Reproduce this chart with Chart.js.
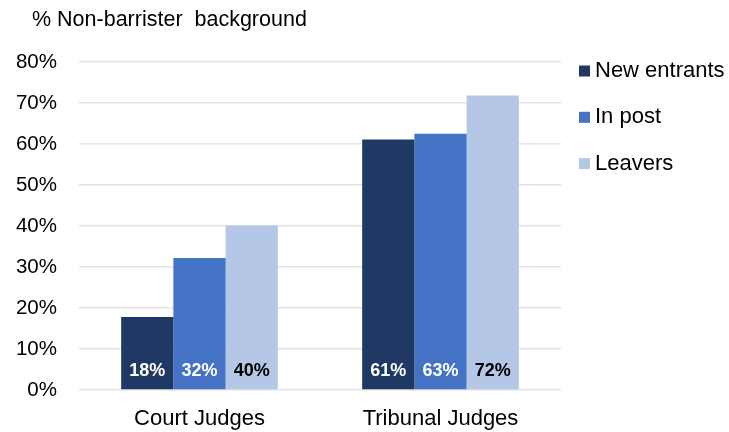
<!DOCTYPE html>
<html>
<head>
<meta charset="utf-8">
<script src="https://cdn.jsdelivr.net/npm/chart.js@4/dist/chart.umd.min.js"></script>
<style>
  html, body { margin: 0; padding: 0; background: #fff; }
  #wrap { width: 729px; height: 432px; }
</style>
</head>
<body>
<div id="wrap"><canvas id="chart" width="729" height="432"></canvas></div>
<script>
// Données
const categories = ['Court Judges', 'Tribunal Judges'];
const newEntrants = [17.8, 61.1];
const inPost = [32.2, 62.5];
const leavers = [40.1, 71.8];
const yTicks = [0, 10, 20, 30, 40, 50, 60, 70, 80];
const axisTitle = '% Non-barrister  background';

const FONT = "'Liberation Sans', Arial, sans-serif";

// Étiquettes de valeur en bas des barres
const barLabels = {
  id: 'barLabels',
  afterDatasetsDraw(chart) {
    const ctx = chart.ctx;
    ctx.save();
    ctx.font = "bold 18px " + FONT;
    ctx.textAlign = 'center';
    ctx.textBaseline = 'middle';
    chart.data.datasets.forEach((ds, i) => {
      chart.getDatasetMeta(i).data.forEach((bar, j) => {
        ctx.fillStyle = ds.labelColor;
        ctx.fillText(Math.round(ds.data[j]) + '%', bar.x, chart.scales.y.getPixelForValue(0) - 18.5);
      });
    });
    ctx.restore();
  }
};

// Titre de l'axe + légende à droite
const extras = {
  id: 'extras',
  afterDraw(chart) {
    const ctx = chart.ctx;
    ctx.save();
    ctx.textAlign = 'left';
    ctx.textBaseline = 'middle';
    ctx.fillStyle = '#000';
    ctx.font = "21.5px " + FONT;
    ctx.fillText(axisTitle, 32, 20);

    const x = chart.chartArea.right + 18;
    ctx.font = "22px " + FONT;
    chart.data.datasets.forEach((ds, i) => {
      const y = 71 + i * 46.3;
      ctx.fillStyle = ds.backgroundColor;
      ctx.fillRect(x, y - 5.5, 11, 11);
      ctx.fillStyle = '#000';
      ctx.fillText(ds.label, x + 16, y);
    });
    ctx.restore();
  }
};

const chart = new Chart(document.getElementById('chart').getContext('2d'), {
  type: 'bar',
  data: {
    labels: categories,
    datasets: [
      { label: 'New entrants', data: newEntrants, backgroundColor: '#203864', labelColor: '#ffffff' },
      { label: 'In post', data: inPost, backgroundColor: '#4472C4', labelColor: '#ffffff' },
      { label: 'Leavers', data: leavers, backgroundColor: '#B4C7E7', labelColor: '#000000' }
    ]
  },
  options: {
    responsive: false,
    animation: false,
    layout: { padding: { left: 14, right: 168, top: 62, bottom: 0 } },
    datasets: {
      bar: { barPercentage: 1, categoryPercentage: 0.65, borderWidth: 0 }
    },
    plugins: {
      legend: { display: false },
      tooltip: { enabled: false }
    },
    scales: {
      x: {
        afterFit(axis) { axis.height = 42; },
        grid: { display: false },
        border: { display: false },
        ticks: { color: '#000', font: { family: FONT, size: 22 }, padding: 7.5 }
      },
      y: {
        min: 0,
        max: 80,
        afterBuildTicks(axis) { axis.ticks = yTicks.map(v => ({ value: v })); },
        afterFit(axis) { axis.width = 65; },
        grid: { color: '#e3e3e3', lineWidth: 1.5, drawTicks: false },
        border: { display: false },
        ticks: { color: '#000', font: { family: FONT, size: 20.5 }, padding: 22, callback: v => v + '%' }
      }
    }
  },
  plugins: [barLabels, extras]
});
</script>
</body>
</html>
